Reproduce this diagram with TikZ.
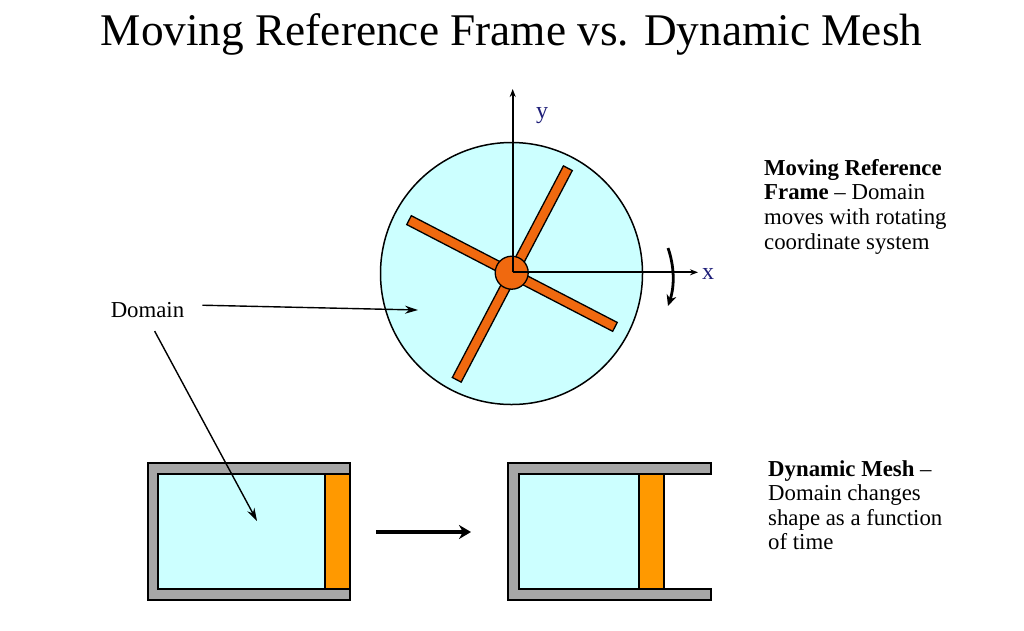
\documentclass[tikz,border=0pt]{standalone}
\usepackage{fontspec}
\setmainfont{Liberation Serif}
\usetikzlibrary{arrows.meta,positioning}
\definecolor{fluid}{RGB}{204,255,255}
\definecolor{bladeorange}{RGB}{240,105,15}
\definecolor{pistonorange}{RGB}{255,153,0}
\definecolor{wallgray}{RGB}{166,166,166}
\definecolor{axisblue}{RGB}{30,30,120}
\tikzstyle{axis}=[->,>={Stealth[length=8pt,width=6pt]},line width=1.9pt]
\tikzstyle{post}=[->,>={Stealth[length=13pt,width=8pt]},line width=1.4pt]
\tikzstyle{blade}=[draw,fill=bladeorange,line width=1.3pt,minimum height=10pt,inner sep=0pt]
\tikzstyle{wall}=[draw,fill=wallgray,line width=1.3pt]
\tikzstyle{chamber}=[draw,fill=fluid,line width=1.3pt,inner sep=0pt,minimum height=115pt]
\tikzstyle{piston}=[draw,fill=pistonorange,line width=1.1pt,inner sep=0pt,minimum width=25pt,minimum height=115pt]
\tikzstyle{note}=[align=left,font=\fontsize{22.8}{24.6}\selectfont,inner sep=0pt]
\begin{document}
\begin{tikzpicture}[x=1pt,y=-1pt]
            \useasboundingbox (0,0) rectangle (1024,630);
            \node (title) at (511.5,34) [font=\fontsize{45.3}{50}\selectfont] {Moving Reference Frame vs. Dynamic Mesh};

            % rotating domain
            \node (disc) at (511.5,273.5) [circle,draw,fill=fluid,line width=1.5pt,inner sep=0pt,minimum size=262pt] {};
            \node (bladeA) at (512.3,274) [blade,rotate=62.3,minimum width=239pt] {};
            \node (bladeB) at (512,273.5) [blade,rotate=-27.4,minimum width=232pt] {};
            \node (hub) at (511.7,272.7) [circle,draw,fill=bladeorange,line width=1.3pt,inner sep=0pt,minimum size=33pt] {};

            \coordinate (origin) at (512.7,272.3);
            \node (yLabel) at (542,116) [text=axisblue,font=\fontsize{24}{26}\selectfont] {y};
            \node (xLabel) at (708,274) [text=axisblue,font=\fontsize{24}{26}\selectfont] {x};
            \coordinate (yEnd) at (512.7,89);
            \coordinate (xEnd) at (698,272.3);
            \draw[axis] (origin) -- (yEnd);
            \draw[axis] (origin) -- (xEnd);
            \coordinate (spinStart) at (668,248);
            \coordinate (spinEnd) at (668,306);
            \draw[->,>={Stealth[length=11pt,width=10pt]},line width=2.8pt] (spinStart) .. controls (674,265) and (675,285) .. (spinEnd);

            \node (movingNote) at (764,159) [note,anchor=north west] {\textbf{Moving Reference}\\\textbf{Frame} -- Domain\\moves with rotating\\coordinate system};

            % cylinders
            \draw[wall] (148,463) rectangle (350,600);
            \node (chamberA) at (241.5,531.5) [chamber,minimum width=167pt] {};
            \node (pistonA) at (337.5,531.5) [piston] {};

            \draw[wall] (711,463) -- (508,463) -- (508,600) -- (711,600) -- (711,589) -- (519,589) -- (519,474) -- (711,474) -- cycle;
            \node (chamberB) at (579,531.5) [chamber,minimum width=120pt] {};
            \node (pistonB) at (651.5,531.5) [piston] {};

            \coordinate (pushStart) at (376,532);
            \coordinate (pushEnd) at (471,532);
            \draw[->,>={Stealth[length=12pt,width=14pt]},line width=3.5pt] (pushStart) -- (pushEnd);

            \node (meshNote) at (768,460) [note,anchor=north west] {\textbf{Dynamic Mesh} --\\Domain changes\\shape as a function\\of time};

            % domain pointers
            \node (domain) at (147.5,310) [font=\fontsize{22.8}{26}\selectfont,inner sep=0pt] {Domain};
            \coordinate (discMark) at (418,310);
            \coordinate (chamberMark) at (257,521);
            \draw[post,shorten <=18pt] (domain.8) -- (discMark);
            \draw[post,shorten <=15pt] (domain.south) -- (chamberMark);
\end{tikzpicture}
\end{document}
